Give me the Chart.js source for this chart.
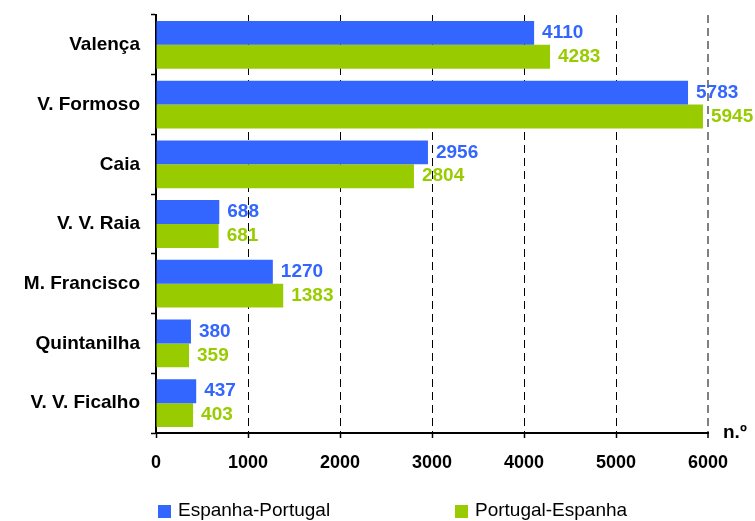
<!DOCTYPE html>
<html>
<head>
<meta charset="utf-8">
<script src="https://cdn.jsdelivr.net/npm/chart.js@4/dist/chart.umd.min.js"></script>
<style>
  html, body { margin: 0; padding: 0; background: #fff; }
  canvas { display: block; }
</style>
</head>
<body>
<canvas id="chart" width="755" height="521"></canvas>
<script>
// dados
const categories = ['Valença', 'V. Formoso', 'Caia', 'V. V. Raia', 'M. Francisco', 'Quintanilha', 'V. V. Ficalho'];
const espanhaPortugal = [4110, 5783, 2956, 688, 1270, 380, 437];
const portugalEspanha = [4283, 5945, 2804, 681, 1383, 359, 403];
const seriesNames = ['Espanha-Portugal', 'Portugal-Espanha'];
const xTicks = [0, 1000, 2000, 3000, 4000, 5000, 6000];
const unitLabel = 'n.º';

const BLUE = '#3366ff';
const GREEN = '#99cc00';
const FONT = 'Arial, "Liberation Sans", sans-serif';

// rótulos de valor à direita das barras
const valueLabels = {
    id: 'valueLabels',
    afterDatasetsDraw(chart) {
        const ctx = chart.ctx;
        ctx.save();
        ctx.font = 'bold 19px ' + FONT;
        ctx.textAlign = 'left';
        ctx.textBaseline = 'middle';
        chart.data.datasets.forEach((ds, i) => {
            const meta = chart.getDatasetMeta(i);
            ctx.fillStyle = ds.backgroundColor;
            meta.data.forEach((bar, j) => {
                ctx.fillText(String(ds.data[j]), bar.x + 8, bar.y);
            });
        });
        // unidade no fim do eixo
        ctx.fillStyle = '#000';
        ctx.fillText(unitLabel, chart.chartArea.right + 15, chart.chartArea.bottom);
        ctx.restore();
    }
};

// legenda desenhada em baixo
const bottomLegend = {
    id: 'bottomLegend',
    afterDraw(chart) {
        const ctx = chart.ctx;
        const starts = [158, 455];
        ctx.save();
        ctx.font = '19px ' + FONT;
        ctx.textAlign = 'left';
        ctx.textBaseline = 'middle';
        chart.data.datasets.forEach((ds, i) => {
            ctx.fillStyle = ds.backgroundColor;
            ctx.fillRect(starts[i], 505, 13, 13);
            ctx.fillStyle = '#000';
            ctx.fillText(ds.label, starts[i] + 20, 511);
        });
        ctx.restore();
    }
};

const config = {
    type: 'bar',
    data: {
        labels: categories,
        datasets: [
            { label: seriesNames[0], data: espanhaPortugal, backgroundColor: BLUE, categoryPercentage: 0.8, barPercentage: 1.0 },
            { label: seriesNames[1], data: portugalEspanha, backgroundColor: GREEN, categoryPercentage: 0.8, barPercentage: 1.0 }
        ]
    },
    options: {
        indexAxis: 'y',
        responsive: false,
        animation: false,
        layout: { padding: { left: 0, top: 15, right: 47, bottom: 38 } },
        plugins: {
            legend: { display: false },
            tooltip: { enabled: false }
        },
        scales: {
            x: {
                min: 0,
                max: 6000,
                afterBuildTicks: (axis) => { axis.ticks = xTicks.map(v => ({ value: v })); },
                afterFit: (axis) => { axis.height = 50; },
                grid: {
                    color: (c) => {
                        if (!c.tick || c.tick.value === 0) return 'rgba(0,0,0,0)';
                        return c.tick.value === 6000 ? '#808080' : '#000';
                    },
                    lineWidth: (c) => c.tick && c.tick.value === 6000 ? 2 : 1,
                    tickLength: 5,
                    tickColor: '#000',
                    tickWidth: 1.5
                },
                border: { color: '#000', width: 2, dash: [8, 5] },
                ticks: {
                    color: '#000',
                    font: { family: FONT, size: 18, weight: 'bold' },
                    padding: 14,
                    maxRotation: 0,
                    callback: (v) => String(v)
                }
            },
            y: {
                afterFit: (axis) => {
                    axis.width = 156;
                    axis.paddingTop = 0;
                    axis.paddingBottom = 0;
                },
                grid: {
                    drawOnChartArea: false,
                    tickLength: 5,
                    tickColor: '#000',
                    tickWidth: 1.5
                },
                border: { color: '#000', width: 2 },
                ticks: {
                    color: '#000',
                    font: { family: FONT, size: 19, weight: 'bold' },
                    padding: 11
                }
            }
        }
    },
    plugins: [valueLabels, bottomLegend]
};

new Chart(document.getElementById('chart'), config);
</script>
</body>
</html>
